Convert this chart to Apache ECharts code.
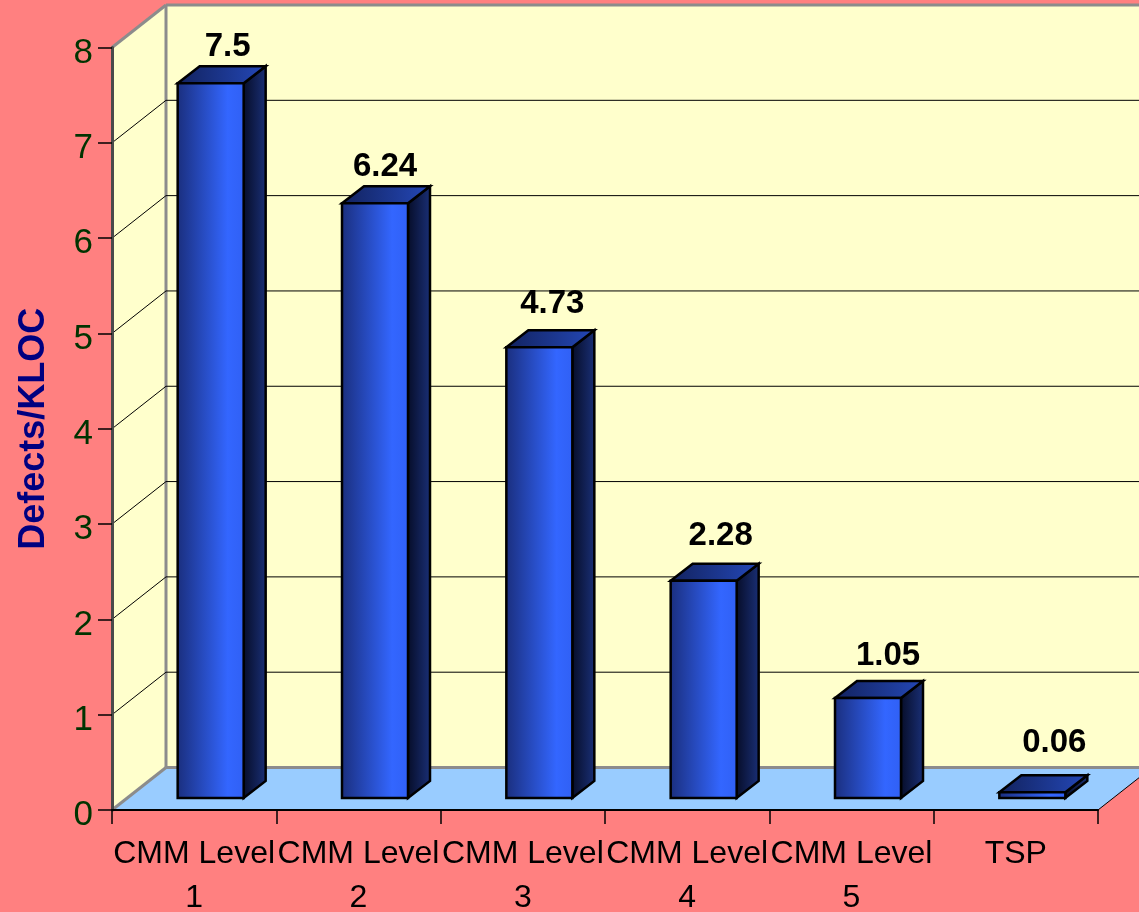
<!DOCTYPE html>
<html>
<head>
<meta charset="utf-8">
<style>html,body{margin:0;padding:0;background:#ff8080}#main{width:1139px;height:912px}</style>
<script src="https://cdn.jsdelivr.net/npm/echarts@6/dist/echarts.min.js"></script>
</head>
<body>
<div id="main"></div>
<script>
// 数据
var categories = ['CMM Level 1', 'CMM Level 2', 'CMM Level 3', 'CMM Level 4', 'CMM Level 5', 'TSP'];
var defects = [7.5, 6.24, 4.73, 2.28, 1.05, 0.06];
var yTicks = [1, 2, 3, 4, 5, 6, 7];

var FONT = '"Liberation Sans", Arial, sans-serif';
var DX = 54, DY = 42.5;      // 墙的进深
var BAR_W = 66, BAR_DX = 22, BAR_DY = 17; // 柱子宽度和进深
var SHIFT_X = 16.5, SHIFT_Y = 12;  // 柱子离前面的距离
var GREY = '#8c8c8c';
// 数值标签的微调
var labelDX = [0, -7, -4, 0, 3, 5];
var labelDY = [4, 4, -3, -5, -2, -9];

function grad(c0, c1, c2) {
  return new echarts.graphic.LinearGradient(0, 0, 1, 0, [
    {offset: 0, color: c0}, {offset: 0.75, color: c1}, {offset: 1, color: c2}
  ]);
}

function edge(x1, y1, x2, y2, color, w) {
  return {type: 'line', shape: {x1: x1, y1: y1, x2: x2, y2: y2}, style: {stroke: color, lineWidth: w}};
}

// 左墙、后墙、地面
function renderWalls(params, api) {
  var half = api.size([1, 0])[0] / 2;
  var x0 = api.coord([0, 0])[0] - half;
  var x1 = api.coord([categories.length - 1, 0])[0] + half;
  var y0 = api.coord([0, 0])[1];
  var y8 = api.coord([0, 8])[1];
  return {type: 'group', children: [
    {type: 'rect', shape: {x: x0 + DX, y: y8 - DY, width: x1 - x0, height: y0 - y8}, style: {fill: '#ffffcc'}},
    {type: 'polygon', shape: {points: [[x0, y8], [x0 + DX, y8 - DY], [x0 + DX, y0 - DY], [x0, y0]]}, style: {fill: '#ffffcc'}},
    {type: 'polygon', shape: {points: [[x0, y0], [x0 + DX, y0 - DY], [x1 + DX, y0 - DY], [x1, y0]]}, style: {fill: '#99ccff'}},
    edge(x0, y8, x0 + DX, y8 - DY, GREY, 3),
    edge(x0 + DX, y8 - DY, x1 + DX, y8 - DY, GREY, 3),
    edge(x0 + DX, y8 - DY, x0 + DX, y0 - DY, GREY, 3),
    edge(x0, y0, x0 + DX, y0 - DY, GREY, 3),
    edge(x0 + DX, y0 - DY, x1 + DX, y0 - DY, GREY, 3),
    edge(x1, y0, x1 + DX, y0 - DY, '#000', 1)
  ]};
}

// 网格线
function renderGrid(params, api) {
  var half = api.size([1, 0])[0] / 2;
  var x0 = api.coord([0, 0])[0] - half;
  var x1 = api.coord([categories.length - 1, 0])[0] + half;
  var y = api.coord([0, api.value(1)])[1];
  return {type: 'group', children: [
    edge(x0, y, x0 + DX, y - DY, '#000', 1),
    edge(x0 + DX, y - DY, x1 + DX, y - DY, '#000', 1)
  ]};
}

// 3D柱子
function renderBar(params, api) {
  var i = api.value(0);
  var v = api.value(1);
  var base = api.coord([i, 0]);
  var top = api.coord([i, v]);
  var l = base[0] + SHIFT_X - BAR_W / 2;
  var r = l + BAR_W;
  var b = base[1] - SHIFT_Y;
  var t = top[1] - SHIFT_Y;
  var line = {stroke: '#000', lineWidth: 2.5, lineJoin: 'miter'};
  return {type: 'group', children: [
    {type: 'polygon', shape: {points: [[r, t], [r + BAR_DX, t - BAR_DY], [r + BAR_DX, b - BAR_DY], [r, b]]},
      style: Object.assign({fill: new echarts.graphic.LinearGradient(0, 0, 1, 0, [{offset: 0, color: '#060c26'}, {offset: 1, color: '#1a3078'}])}, line)},
    {type: 'polygon', shape: {points: [[l, t], [l + BAR_DX, t - BAR_DY], [r + BAR_DX, t - BAR_DY], [r, t]]},
      style: Object.assign({fill: new echarts.graphic.LinearGradient(0, 0, 1, 0, [{offset: 0, color: '#12225e'}, {offset: 1, color: '#2448b8'}])}, line)},
    {type: 'rect', shape: {x: l, y: t, width: BAR_W, height: b - t},
      style: Object.assign({fill: grad('#1a2e7c', '#3366ff', '#3060f4')}, line)},
    {type: 'text', style: {text: String(v), x: l + 50 + labelDX[i], y: t - 40 + labelDY[i], align: 'center', verticalAlign: 'middle',
      fill: '#000', font: 'bold 33px ' + FONT}}
  ]};
}

var chart = echarts.init(document.getElementById('main'));
chart.setOption({
  backgroundColor: '#ff8080',
  animation: false,
  grid: {left: 112, right: 41, top: 47.5, bottom: 102, outerBoundsMode: 'none'},
  xAxis: {
    type: 'category',
    data: categories,
    z: 10,
    axisLine: {lineStyle: {color: '#000', width: 2}},
    axisTick: {show: true, length: 14, lineStyle: {color: '#000', width: 1.5}},
    axisLabel: {
      interval: 0, color: '#000', fontFamily: FONT, fontSize: 32, lineHeight: 44, margin: 22,
      formatter: function (s) { return s.replace(/ (\d)$/, '\n$1'); }
    }
  },
  yAxis: {
    type: 'value',
    min: 0, max: 8, interval: 1,
    z: 10,
    name: 'Defects/KLOC',
    nameLocation: 'middle',
    nameGap: 60,
    nameTextStyle: {color: '#000080', fontFamily: FONT, fontSize: 36, fontWeight: 'bold'},
    splitLine: {show: false},
    axisLine: {show: true, lineStyle: {color: '#4a4a4a', width: 3}},
    axisTick: {show: true, length: 14, lineStyle: {color: '#000', width: 1.5}},
    axisLabel: {color: '#003300', fontFamily: FONT, fontSize: 35, margin: 19, verticalAlign: 'top', lineHeight: 11}
  },
  series: [
    {type: 'custom', z: 1, renderItem: renderWalls, data: [[0, 0]], silent: true},
    {type: 'custom', z: 2, renderItem: renderGrid, data: yTicks.map(function (t) { return [0, t]; }), silent: true},
    {type: 'custom', z: 3, renderItem: renderBar, data: defects.map(function (v, i) { return [i, v]; })}
  ]
});
</script>
</body>
</html>
